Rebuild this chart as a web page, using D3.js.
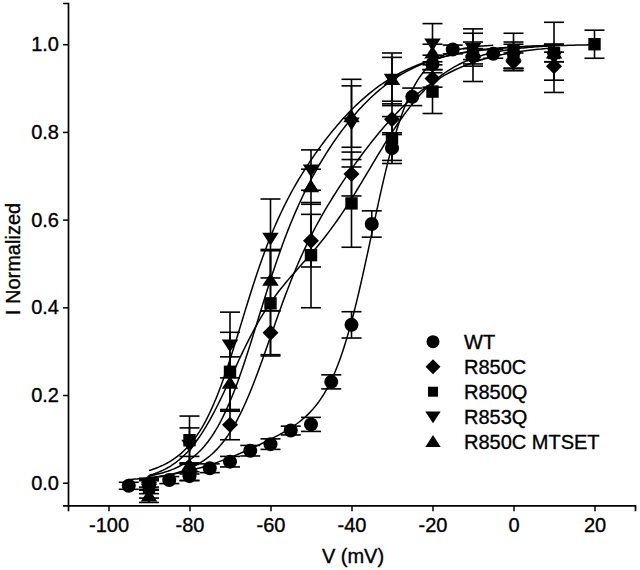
<!DOCTYPE html>
<html>
<head>
<meta charset="utf-8">
<script src="https://cdn.jsdelivr.net/npm/d3@7/dist/d3.min.js"></script>
<style>
  html, body { margin: 0; padding: 0; background: #fff; }
  svg { display: block; }
  text { font-family: "Liberation Sans", Arial, Helvetica, sans-serif; fill: #000; stroke: #000; stroke-width: 0.35px; }
</style>
</head>
<body>
<svg id="chart" width="640" height="570"></svg>
<script>
// ---------------- data ----------------
const seriesNames = ["WT", "R850C", "R850Q", "R853Q", "R850C MTSET"];
const seriesSymbols = ["circle", "diamond", "square", "triangleDown", "triangleUp"];

const wtV   = [-95, -90, -85, -80, -75, -70, -65, -60, -55, -50, -45, -40, -35, -30, -25, -20, -15, -5];
const wtI   = [-0.007, -0.005, 0.006, 0.015, 0.033, 0.048, 0.073, 0.088, 0.119, 0.133, 0.23, 0.36, 0.59, 0.763, 0.88, 0.955, 0.988, 0.978];
const wtErr = [0.008, 0.012, 0.008, 0.01, 0.01, 0.012, 0.012, 0.012, 0.01, 0.016, 0.016, 0.03, 0.03, 0.035, 0.02, 0.02, 0.01, 0.01];

const mutV = [-90, -80, -70, -60, -50, -40, -30, -20, -10, 0, 10];
const r850qV = [-90, -80, -70, -60, -50, -40, -30, -20, -10, 0, 10, 20];

const r850cI   = [0.0, 0.025, 0.132, 0.342, 0.552, 0.704, 0.829, 0.922, 0.97, 0.96, 0.95];
const r850cErr = [0.01, 0.02, 0.034, 0.05, 0.06, 0.05, 0.035, 0.02, 0.02, 0.02, 0.032];

const r850qI   = [-0.01, 0.097, 0.253, 0.409, 0.519, 0.637, 0.785, 0.892, 0.975, 0.985, 0.98, 1.0];
const r850qErr = [0.015, 0.055, 0.09, 0.12, 0.12, 0.10, 0.05, 0.05, 0.06, 0.04, 0.02, 0.032];

const r853qI   = [-0.015, 0.085, 0.314, 0.557, 0.713, 0.82, 0.92, 1.0, 0.99, 0.97, 0.97];
const r853qErr = [0.02, 0.04, 0.075, 0.09, 0.046, 0.1, 0.06, 0.047, 0.035, 0.03, 0.08];

const mtsetI   = [-0.03, 0.04, 0.227, 0.462, 0.675, 0.835, 0.92, 0.98, 0.985, 0.975, 0.98];
const mtsetErr = [0.015, 0.02, 0.06, 0.07, 0.04, 0.07, 0.05, 0.02, 0.02, 0.03, 0.02];

// double-Boltzmann fit parameters, order = seriesNames
const fitA  = [0.15, 0.45, 0.45, 0.45, 0.5];
const fitV1 = [-65, -61, -70, -68, -64];
const fitK1 = [10, 5.5, 6, 5, 5.5];
const fitV2 = [-35, -40, -35, -52, -48];
const fitK2 = [5, 12, 9, 12, 11];
const fitStart = [-95, -90, -90, -90, -90];
const fitEnd   = [-5, 10, 20, 10, 10];

const xTicks = [-100, -80, -60, -40, -20, 0, 20];
const yTicks = [0.0, 0.2, 0.4, 0.6, 0.8, 1.0];
const xLabel = "V (mV)";
const yLabel = "I Normalized";

// ---------------- build ----------------
const seriesV   = [wtV, mutV, r850qV, mutV, mutV];
const seriesI   = [wtI, r850cI, r850qI, r853qI, mtsetI];
const seriesErr = [wtErr, r850cErr, r850qErr, r853qErr, mtsetErr];

const svg = d3.select("#chart");
const x = d3.scaleLinear().domain([-110, 30]).range([68, 635]);
const y = d3.scaleLinear().domain([-0.0515, 1.094]).range([505.3, 3]);

const FS = 20;

// axes
const gx = svg.append("g").attr("transform", `translate(0,${y.range()[0]})`)
  .call(d3.axisBottom(x).tickValues(xTicks).tickFormat(d3.format("d")).tickSizeOuter(0).tickSize(6).tickPadding(6.5));
const gy = svg.append("g").attr("transform", `translate(${x.range()[0]},0)`)
  .call(d3.axisLeft(y).tickValues(yTicks).tickFormat(d3.format(".1f")).tickSizeOuter(0).tickSize(5).tickPadding(4));
[gx, gy].forEach(g => {
  g.select(".domain").attr("stroke", "#000").attr("stroke-width", 1.7);
  g.selectAll(".tick line").attr("stroke", "#000").attr("stroke-width", 1.5);
  g.selectAll(".tick text").attr("font-size", FS).attr("fill", "#000")
    .attr("font-family", '"Liberation Sans", Arial, sans-serif');
});
gx.selectAll(".tick text").text(d => d < 0 ? "-" + Math.abs(d) : d);

svg.append("text").attr("x", 353).attr("y", 563).attr("text-anchor", "middle")
  .attr("font-size", FS).text(xLabel);
svg.append("text").attr("transform", "translate(20,259) rotate(-90)").attr("text-anchor", "middle")
  .attr("font-size", FS).text(yLabel);

// symbol shapes
function symbolPath(type, s) {
  switch (type) {
    case "circle": return d3.symbol().type(d3.symbolCircle).size(Math.PI * s * s)();
    case "diamond": return `M0,${-s}L${s},0L0,${s}L${-s},0Z`;
    case "square": return `M${-s},${-s}H${s}V${s}H${-s}Z`;
    case "triangleUp": return `M0,${-s * 0.95}L${s * 1.1},${s * 0.75}L${-s * 1.1},${s * 0.75}Z`;
    case "triangleDown": return `M0,${s * 0.95}L${s * 1.1},${-s * 0.75}L${-s * 1.1},${-s * 0.75}Z`;
  }
}
const symbolSize = { circle: 7, diamond: 8, square: 6.2, triangleUp: 7.5, triangleDown: 7.5 };
const legendSize = { circle: 6.5, diamond: 7.5, square: 5, triangleUp: 7, triangleDown: 7 };

// fit curves
function fitValue(i, v) {
  return fitA[i] / (1 + Math.exp((fitV1[i] - v) / fitK1[i])) +
         (1 - fitA[i]) / (1 + Math.exp((fitV2[i] - v) / fitK2[i]));
}
const line = d3.line().x(d => x(d[0])).y(d => y(d[1])).curve(d3.curveLinear);
const gFit = svg.append("g");
seriesNames.forEach((name, i) => {
  const pts = d3.range(fitStart[i], fitEnd[i] + 0.001, 0.5).map(v => [v, fitValue(i, v)]);
  gFit.append("path").datum(pts).attr("d", line)
    .attr("fill", "none").attr("stroke", "#000").attr("stroke-width", 1.5);
});

// error bars and markers
const cap = 10;
seriesNames.forEach((name, i) => {
  const g = svg.append("g");
  const data = seriesV[i].map((v, j) => ({ v, m: seriesI[i][j], e: seriesErr[i][j] }));
  const eb = g.selectAll(".eb").data(data).join("g");
  eb.append("line").attr("x1", d => x(d.v)).attr("x2", d => x(d.v))
    .attr("y1", d => y(d.m - d.e)).attr("y2", d => y(d.m + d.e))
    .attr("stroke", "#000").attr("stroke-width", 1.6);
  eb.append("line").attr("x1", d => x(d.v) - cap).attr("x2", d => x(d.v) + cap)
    .attr("y1", d => y(d.m + d.e)).attr("y2", d => y(d.m + d.e))
    .attr("stroke", "#000").attr("stroke-width", 1.6);
  eb.append("line").attr("x1", d => x(d.v) - cap).attr("x2", d => x(d.v) + cap)
    .attr("y1", d => y(d.m - d.e)).attr("y2", d => y(d.m - d.e))
    .attr("stroke", "#000").attr("stroke-width", 1.6);
  g.selectAll(".mk").data(data).join("path")
    .attr("transform", d => `translate(${x(d.v)},${y(d.m)})`)
    .attr("d", symbolPath(seriesSymbols[i], symbolSize[seriesSymbols[i]]))
    .attr("fill", "#000");
});

// legend
const lg = svg.append("g");
seriesNames.forEach((name, i) => {
  const ly = 341.7 + i * 25;
  lg.append("path").attr("transform", `translate(433,${ly})`)
    .attr("d", symbolPath(seriesSymbols[i], legendSize[seriesSymbols[i]])).attr("fill", "#000");
  lg.append("text").attr("x", 464).attr("y", ly).attr("dy", "0.36em")
    .attr("font-size", FS).text(name);
});
</script>
</body>
</html>
